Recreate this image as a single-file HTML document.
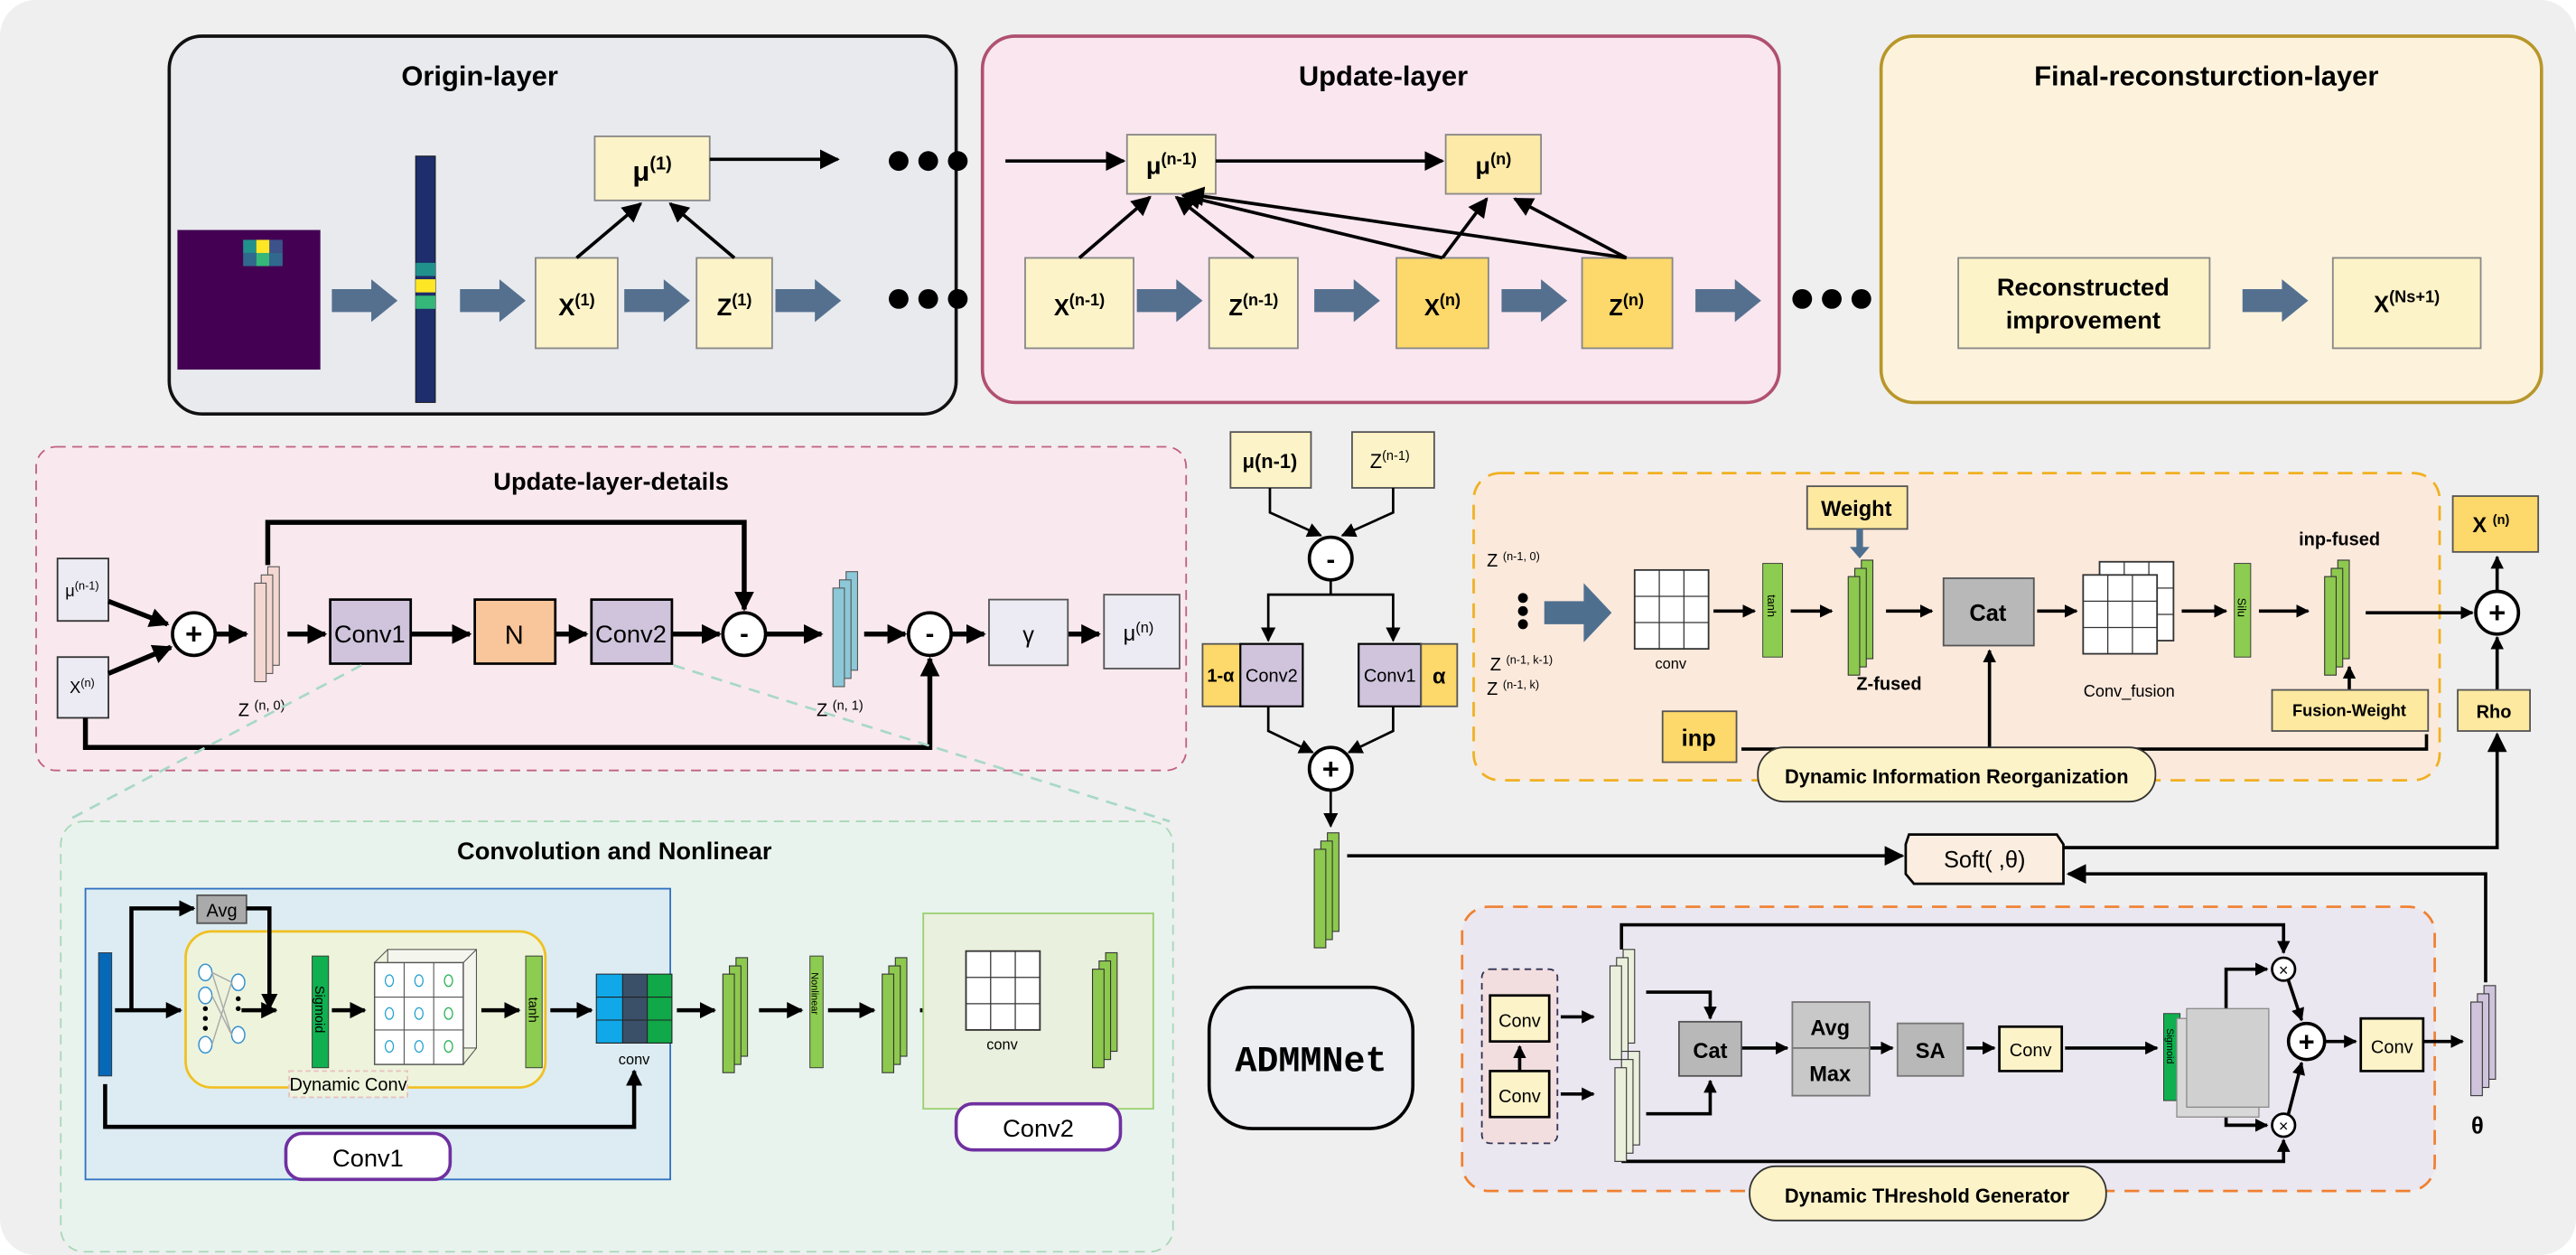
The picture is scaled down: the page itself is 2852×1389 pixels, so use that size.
<!DOCTYPE html>
<html><head><meta charset="utf-8"><style>
html,body{margin:0;padding:0;background:#fff;}
svg{display:block}
text{font-family:"Liberation Sans",sans-serif;}
text.mono{font-family:"Liberation Mono",monospace;}
</style></head><body>
<svg width="2852" height="1389" viewBox="0 0 1568 764" preserveAspectRatio="none" xmlns="http://www.w3.org/2000/svg">
<defs>
<marker id="a" viewBox="0 0 10 10" refX="9" refY="5" markerWidth="4" markerHeight="4" orient="auto"><path d="M0,0L10,5L0,10z" fill="#000"/></marker>
<marker id="b" viewBox="0 0 10 10" refX="9" refY="5" markerWidth="6" markerHeight="6" orient="auto"><path d="M0,0L10,5L0,10z" fill="#000"/></marker>
<g id="fat"><path d="M0,-7H24V-13L40,0L24,13V7H0z" fill="#55708f"/></g>
<g id="gst"><rect x="8" y="0" width="7" height="60" fill="#8dc94e" stroke="#333" stroke-width="0.6"/><rect x="4" y="5" width="7" height="60" fill="#8dc94e" stroke="#333" stroke-width="0.6"/><rect x="0" y="10" width="7" height="60" fill="#8dc94e" stroke="#333" stroke-width="0.6"/></g>
<g id="grid"><rect width="45" height="48" fill="#fff" stroke="#333"/><path d="M15,0V48M30,0V48M0,16H45M0,32H45" stroke="#333" stroke-width="0.7"/></g>
</defs>
<rect width="1568" height="764" rx="22" fill="#efefef"/>

<!-- Origin layer -->
<rect x="103" y="22" width="479" height="230" rx="20" fill="#e8eaee" stroke="#111" stroke-width="2"/>
<text x="292" y="52" font-size="17" font-weight="bold" text-anchor="middle">Origin-layer</text>
<rect x="108" y="140" width="87" height="85" fill="#440154"/>
<rect x="148" y="146" width="8" height="8" fill="#21918c"/><rect x="156" y="146" width="8" height="8" fill="#fde725"/><rect x="164" y="146" width="8" height="8" fill="#3b528b"/>
<rect x="148" y="154" width="8" height="8" fill="#31688e"/><rect x="156" y="154" width="8" height="8" fill="#35b779"/><rect x="164" y="154" width="8" height="8" fill="#31688e"/>
<use href="#fat" x="202" y="183"/>
<rect x="253" y="95" width="12" height="150" fill="#1e2d6b" stroke="#111" stroke-width="0.5"/>
<rect x="253" y="160" width="12" height="8" fill="#21918c"/><rect x="253" y="170" width="12" height="8" fill="#fde725"/><rect x="253" y="180" width="12" height="8" fill="#35b779"/>
<use href="#fat" x="280" y="183"/>
<rect x="326" y="157" width="50" height="55" fill="#fdf3c8" stroke="#888"/><text x="351" y="192" font-size="15" font-weight="bold" text-anchor="middle">X<tspan font-size="10" dy="-6">(1)</tspan></text>
<use href="#fat" x="380" y="183"/>
<rect x="424" y="157" width="46" height="55" fill="#fdf3c8" stroke="#888"/><text x="447" y="192" font-size="15" font-weight="bold" text-anchor="middle">Z<tspan font-size="10" dy="-6">(1)</tspan></text>
<use href="#fat" x="472" y="183"/>
<rect x="362" y="83" width="70" height="39" fill="#fdf3c8" stroke="#888"/><text x="397" y="110" font-size="17" font-weight="bold" text-anchor="middle">μ<tspan font-size="11" dy="-7">(1)</tspan></text>
<line x1="432" y1="97" x2="510" y2="97" stroke="#000" stroke-width="2" marker-end="url(#b)"/>
<line x1="351" y1="157" x2="390" y2="124" stroke="#000" stroke-width="2" marker-end="url(#b)"/>
<line x1="447" y1="157" x2="408" y2="124" stroke="#000" stroke-width="2" marker-end="url(#b)"/>
<g fill="#000"><circle cx="547" cy="98" r="6"/><circle cx="565" cy="98" r="6"/><circle cx="583" cy="98" r="6"/><circle cx="547" cy="182" r="6"/><circle cx="565" cy="182" r="6"/><circle cx="583" cy="182" r="6"/></g>

<!-- Update layer -->
<rect x="598" y="22" width="485" height="223" rx="20" fill="#f9e6ee" stroke="#b05070" stroke-width="2"/>
<text x="842" y="52" font-size="17" font-weight="bold" text-anchor="middle">Update-layer</text>
<line x1="612" y1="98" x2="684" y2="98" stroke="#000" stroke-width="2" marker-end="url(#b)"/>
<rect x="686" y="82" width="54" height="36" fill="#fdf3c8" stroke="#888"/><text x="713" y="106" font-size="15" font-weight="bold" text-anchor="middle">μ<tspan font-size="10" dy="-6">(n-1)</tspan></text>
<rect x="880" y="82" width="58" height="36" fill="#fde9a8" stroke="#888"/><text x="909" y="106" font-size="15" font-weight="bold" text-anchor="middle">μ<tspan font-size="10" dy="-6">(n)</tspan></text>
<line x1="740" y1="98" x2="878" y2="98" stroke="#000" stroke-width="2" marker-end="url(#b)"/>
<rect x="624" y="157" width="66" height="55" fill="#fdf3c8" stroke="#888"/><text x="657" y="192" font-size="14" font-weight="bold" text-anchor="middle">X<tspan font-size="10" dy="-6">(n-1)</tspan></text>
<use href="#fat" x="692" y="183"/>
<rect x="736" y="157" width="54" height="55" fill="#fdf3c8" stroke="#888"/><text x="763" y="192" font-size="14" font-weight="bold" text-anchor="middle">Z<tspan font-size="10" dy="-6">(n-1)</tspan></text>
<use href="#fat" x="800" y="183"/>
<rect x="850" y="157" width="56" height="55" fill="#fdd86a" stroke="#888"/><text x="878" y="192" font-size="14" font-weight="bold" text-anchor="middle">X<tspan font-size="10" dy="-6">(n)</tspan></text>
<use href="#fat" x="914" y="183"/>
<rect x="963" y="157" width="55" height="55" fill="#fdd86a" stroke="#888"/><text x="990" y="192" font-size="14" font-weight="bold" text-anchor="middle">Z<tspan font-size="10" dy="-6">(n)</tspan></text>
<g stroke="#000" stroke-width="2" marker-end="url(#b)">
<line x1="657" y1="157" x2="700" y2="120"/><line x1="763" y1="157" x2="716" y2="120"/>
<line x1="878" y1="157" x2="720" y2="119"/><line x1="990" y1="157" x2="722" y2="118"/>
<line x1="878" y1="157" x2="905" y2="121"/><line x1="990" y1="157" x2="922" y2="121"/>
</g>
<use href="#fat" x="1032" y="183"/>
<g fill="#000"><circle cx="1097" cy="182" r="6"/><circle cx="1115" cy="182" r="6"/><circle cx="1133" cy="182" r="6"/></g>
<use href="#fat" x="1146" y="183"/>

<!-- Final -->
<rect x="1145" y="22" width="402" height="223" rx="20" fill="#fdf3dd" stroke="#b8962a" stroke-width="2"/>
<text x="1343" y="52" font-size="17" font-weight="bold" text-anchor="middle">Final-reconsturction-layer</text>
<rect x="1192" y="157" width="153" height="55" fill="#fdf3c8" stroke="#888"/>
<text x="1268" y="180" font-size="15" font-weight="bold" text-anchor="middle">Reconstructed</text><text x="1268" y="200" font-size="15" font-weight="bold" text-anchor="middle">improvement</text>
<use href="#fat" x="1365" y="183"/>
<rect x="1420" y="157" width="90" height="55" fill="#fdf3c8" stroke="#888"/><text x="1465" y="190" font-size="14" font-weight="bold" text-anchor="middle">X<tspan font-size="10" dy="-6">(Ns+1)</tspan></text>

<!-- Update-layer-details -->
<rect x="22" y="272" width="700" height="197" rx="12" fill="#f9e9ee" stroke="#c06080" stroke-dasharray="6,4"/>
<text x="372" y="298" font-size="15" font-weight="bold" text-anchor="middle">Update-layer-details</text>
<rect x="35" y="340" width="31" height="38" fill="#eceaf2" stroke="#333"/><text x="50" y="363" font-size="10" text-anchor="middle">μ<tspan font-size="7" dy="-4">(n-1)</tspan></text>
<rect x="35" y="400" width="31" height="37" fill="#eceaf2" stroke="#333"/><text x="50" y="422" font-size="10" text-anchor="middle">X<tspan font-size="7" dy="-4">(n)</tspan></text>
<g stroke="#000" stroke-width="3" fill="none">
<line x1="66" y1="366" x2="102" y2="380" marker-end="url(#a)"/>
<line x1="66" y1="410" x2="104" y2="394" marker-end="url(#a)"/>
<line x1="131" y1="386" x2="150" y2="386" marker-end="url(#a)"/>
<line x1="175" y1="386" x2="198" y2="386" marker-end="url(#a)"/>
<line x1="250" y1="386" x2="286" y2="386" marker-end="url(#a)"/>
<line x1="338" y1="386" x2="357" y2="386" marker-end="url(#a)"/>
<line x1="409" y1="386" x2="438" y2="386" marker-end="url(#a)"/>
<line x1="466" y1="386" x2="500" y2="386" marker-end="url(#a)"/>
<line x1="526" y1="386" x2="551" y2="386" marker-end="url(#a)"/>
<line x1="579" y1="386" x2="599" y2="386" marker-end="url(#a)"/>
<line x1="650" y1="386" x2="669" y2="386" marker-end="url(#a)"/>
<polyline points="163,344 163,318 453,318 453,371" marker-end="url(#a)"/>
<polyline points="52,437 52,455 566,455 566,401" marker-end="url(#a)"/>
</g>
<circle cx="118" cy="386" r="13" fill="#fff" stroke="#000" stroke-width="2"/><text x="118" y="392" font-size="18" font-weight="bold" text-anchor="middle">+</text>
<rect x="163" y="345" width="7" height="60" fill="#f3d7d0" stroke="#555" stroke-width="0.6"/><rect x="159" y="350" width="7" height="60" fill="#f3d7d0" stroke="#555" stroke-width="0.6"/><rect x="155" y="355" width="7" height="60" fill="#f3d7d0" stroke="#555" stroke-width="0.6"/>
<text x="145" y="436" font-size="11">Z <tspan font-size="8" dy="-4">(n, 0)</tspan></text>
<rect x="201" y="365" width="49" height="39" fill="#cfc4dc" stroke="#000" stroke-width="1.5"/><text x="225" y="391" font-size="15" text-anchor="middle">Conv1</text>
<rect x="289" y="365" width="49" height="39" fill="#f8c69a" stroke="#000" stroke-width="1.5"/><text x="313" y="392" font-size="16" text-anchor="middle">N</text>
<rect x="360" y="365" width="49" height="39" fill="#cfc4dc" stroke="#000" stroke-width="1.5"/><text x="384" y="391" font-size="15" text-anchor="middle">Conv2</text>
<circle cx="453" cy="386" r="13" fill="#fff" stroke="#000" stroke-width="2"/><text x="453" y="391" font-size="16" font-weight="bold" text-anchor="middle">-</text>
<rect x="515" y="348" width="7" height="60" fill="#8cc8d8" stroke="#555" stroke-width="0.6"/><rect x="511" y="353" width="7" height="60" fill="#8cc8d8" stroke="#555" stroke-width="0.6"/><rect x="507" y="358" width="7" height="60" fill="#8cc8d8" stroke="#555" stroke-width="0.6"/>
<text x="497" y="436" font-size="11">Z <tspan font-size="8" dy="-4">(n, 1)</tspan></text>
<circle cx="566" cy="386" r="13" fill="#fff" stroke="#000" stroke-width="2"/><text x="566" y="391" font-size="16" font-weight="bold" text-anchor="middle">-</text>
<rect x="602" y="365" width="48" height="40" fill="#eceaf2" stroke="#555"/><text x="626" y="391" font-size="14" text-anchor="middle">γ</text>
<rect x="672" y="362" width="46" height="45" fill="#eceaf2" stroke="#555"/><text x="693" y="390" font-size="13" text-anchor="middle">μ<tspan font-size="9" dy="-5">(n)</tspan></text>
<line x1="220" y1="405" x2="40" y2="500" stroke="#a8d8c8" stroke-width="1.5" stroke-dasharray="7,5"/>
<line x1="410" y1="405" x2="712" y2="500" stroke="#a8d8c8" stroke-width="1.5" stroke-dasharray="7,5"/>

<!-- Convolution and Nonlinear -->
<rect x="37" y="500" width="677" height="262" rx="14" fill="#e9f3ee" stroke="#a8d8b8" stroke-dasharray="6,4"/>
<text x="374" y="523" font-size="15" font-weight="bold" text-anchor="middle">Convolution and Nonlinear</text>
<rect x="52" y="541" width="356" height="177" fill="#dcecf2" stroke="#3070c0"/>
<rect x="113" y="567" width="219" height="95" rx="16" fill="#eef3dc" stroke="#f0c020" stroke-width="1.5"/>
<rect x="176" y="652" width="72" height="16" fill="#eef3dc" stroke="#e8c0c0" stroke-dasharray="3,2"/><text x="212" y="664" font-size="11" text-anchor="middle">Dynamic Conv</text>
<rect x="60" y="580" width="8" height="75" fill="#0868b8" stroke="#333" stroke-width="0.5"/>
<rect x="120" y="545" width="30" height="17" fill="#aaa" stroke="#555"/><text x="135" y="558" font-size="11" text-anchor="middle">Avg</text>
<g stroke="#000" stroke-width="2.5" fill="none">
<line x1="70" y1="615" x2="110" y2="615" marker-end="url(#a)"/>
<polyline points="80,615 80,553 118,553" marker-end="url(#a)"/>
<polyline points="150,553 164,553 164,614" marker-end="url(#a)"/>
<line x1="147" y1="615" x2="168" y2="615" marker-end="url(#a)"/>
<line x1="202" y1="615" x2="222" y2="615" marker-end="url(#a)"/>
<line x1="293" y1="615" x2="316" y2="615" marker-end="url(#a)"/>
<line x1="335" y1="615" x2="360" y2="615" marker-end="url(#a)"/>
<polyline points="64,660 64,686 386,686 386,652" marker-end="url(#a)"/>
<line x1="412" y1="615" x2="435" y2="615" marker-end="url(#a)"/>
<line x1="462" y1="615" x2="488" y2="615" marker-end="url(#a)"/>
<line x1="504" y1="615" x2="532" y2="615" marker-end="url(#a)"/>
<line x1="560" y1="615" x2="583" y2="615" marker-end="url(#a)"/>
<line x1="637" y1="615" x2="660" y2="615" marker-end="url(#a)"/>
</g>
<g fill="#fff" stroke="#3090d0" stroke-width="0.8"><ellipse cx="125" cy="592" rx="4" ry="5"/><ellipse cx="125" cy="606" rx="4" ry="5"/><ellipse cx="125" cy="636" rx="4" ry="5"/><ellipse cx="145" cy="598" rx="4" ry="5"/><ellipse cx="145" cy="630" rx="4" ry="5"/></g>
<g stroke="#aaa" stroke-width="0.8"><line x1="129" y1="592" x2="141" y2="598"/><line x1="129" y1="606" x2="141" y2="630"/><line x1="129" y1="636" x2="141" y2="598"/><line x1="129" y1="592" x2="141" y2="630"/></g>
<g fill="#000"><circle cx="125" cy="614" r="1.5"/><circle cx="125" cy="620" r="1.5"/><circle cx="125" cy="626" r="1.5"/><circle cx="145" cy="608" r="1.5"/><circle cx="145" cy="614" r="1.5"/></g>
<rect x="190" y="582" width="10" height="68" fill="#10b050" stroke="#333" stroke-width="0.5"/><text transform="translate(192,600) rotate(90)" font-size="8">Sigmoid</text>
<rect x="236" y="578" width="54" height="60" fill="#f4f6ee" stroke="#555" stroke-width="0.6"/>
<rect x="228" y="586" width="54" height="62" fill="#fff" stroke="#555" stroke-width="0.8"/>
<path d="M228,586L236,578M282,586L290,578M282,648L290,638M246,586V648M264,586V648M228,607H282M228,627H282" stroke="#555" stroke-width="0.6" fill="none"/>
<g fill="#fff" stroke="#20a0d0" stroke-width="0.7"><ellipse cx="237" cy="597" rx="2.5" ry="3.5"/><ellipse cx="255" cy="597" rx="2.5" ry="3.5"/><ellipse cx="273" cy="597" rx="2.5" ry="3.5" stroke="#20b050"/><ellipse cx="237" cy="617" rx="2.5" ry="3.5"/><ellipse cx="255" cy="617" rx="2.5" ry="3.5"/><ellipse cx="273" cy="617" rx="2.5" ry="3.5" stroke="#20b050"/><ellipse cx="237" cy="637" rx="2.5" ry="3.5"/><ellipse cx="255" cy="637" rx="2.5" ry="3.5"/><ellipse cx="273" cy="637" rx="2.5" ry="3.5" stroke="#20b050"/></g>
<rect x="320" y="582" width="10" height="68" fill="#8ccc50" stroke="#333" stroke-width="0.5"/><text transform="translate(322,607) rotate(90)" font-size="8">tanh</text>
<rect x="363" y="593" width="16" height="42" fill="#10a8e8"/><rect x="379" y="593" width="15" height="42" fill="#3a5068"/><rect x="394" y="593" width="15" height="42" fill="#10a848"/>
<path d="M363,593H409V635H363zM363,607H409M363,621H409M379,593V635M394,593V635" stroke="#222" stroke-width="0.6" fill="none"/>
<text x="386" y="648" font-size="9" text-anchor="middle">conv</text>
<rect x="174" y="690" width="100" height="28" rx="10" fill="#fff" stroke="#7030a0" stroke-width="2"/><text x="224" y="710" font-size="15" text-anchor="middle">Conv1</text>
<use href="#gst" x="440" y="583"/>
<rect x="493" y="582" width="8" height="68" fill="#8ccc50" stroke="#333" stroke-width="0.5"/><text transform="translate(494,592) rotate(90)" font-size="6">Nonlinear</text>
<use href="#gst" x="537" y="583"/>
<rect x="562" y="556" width="140" height="119" fill="#eaf0de" stroke="#9ad070"/>
<use href="#grid" x="588" y="579"/>
<text x="610" y="639" font-size="9" text-anchor="middle">conv</text>
<use href="#gst" x="665" y="580"/>
<rect x="582" y="672" width="100" height="28" rx="10" fill="#fff" stroke="#7030a0" stroke-width="2"/><text x="632" y="692" font-size="15" text-anchor="middle">Conv2</text>

<!-- middle column -->
<rect x="749" y="263" width="49" height="34" fill="#fdf3c8" stroke="#555"/><text x="773" y="285" font-size="12" font-weight="bold" text-anchor="middle">μ(n-1)</text>
<rect x="823" y="263" width="50" height="34" fill="#fdf3c8" stroke="#555"/><text x="846" y="285" font-size="12" text-anchor="middle">Z<tspan font-size="8" dy="-5">(n-1)</tspan></text>
<g stroke="#000" stroke-width="1.5" fill="none">
<polyline points="773,297 773,312 804,326" marker-end="url(#b)"/>
<polyline points="848,297 848,312 817,326" marker-end="url(#b)"/>
<polyline points="810,353 810,362 772,362 772,390" marker-end="url(#b)"/>
<polyline points="810,362 848,362 848,390" marker-end="url(#b)"/>
<polyline points="772,430 772,445 799,458" marker-end="url(#b)"/>
<polyline points="848,430 848,445 821,458" marker-end="url(#b)"/>
<line x1="810" y1="481" x2="810" y2="503" marker-end="url(#b)"/>
</g>
<circle cx="810" cy="340" r="13" fill="#fff" stroke="#000" stroke-width="2"/><text x="810" y="346" font-size="16" font-weight="bold" text-anchor="middle">-</text>
<rect x="732" y="392" width="23" height="38" fill="#fdd86a" stroke="#555"/><text x="743" y="415" font-size="11" font-weight="bold" text-anchor="middle">1-α</text>
<rect x="755" y="392" width="38" height="38" fill="#cfc4dc" stroke="#000" stroke-width="1.2"/><text x="774" y="415" font-size="11" text-anchor="middle">Conv2</text>
<rect x="827" y="392" width="38" height="38" fill="#cfc4dc" stroke="#000" stroke-width="1.2"/><text x="846" y="415" font-size="11" text-anchor="middle">Conv1</text>
<rect x="865" y="392" width="22" height="38" fill="#fdd86a" stroke="#555"/><text x="876" y="416" font-size="13" font-weight="bold" text-anchor="middle">α</text>
<circle cx="810" cy="468" r="13" fill="#fff" stroke="#000" stroke-width="2"/><text x="810" y="474" font-size="18" font-weight="bold" text-anchor="middle">+</text>
<use href="#gst" x="800" y="507"/>
<rect x="736" y="601" width="124" height="86" rx="26" fill="#eceef2" stroke="#000" stroke-width="2"/>
<text class="mono" x="798" y="652" font-size="22" font-weight="bold" text-anchor="middle">ADMMNet</text>

<!-- Soft -->
<line x1="820" y1="521" x2="1158" y2="521" stroke="#000" stroke-width="2" marker-end="url(#b)"/>
<path d="M1162,508H1252L1256,514V538H1165L1160,532V514z" fill="#fbeee0" stroke="#000" stroke-width="1.5"/>
<text x="1208" y="528" font-size="14" text-anchor="middle">Soft(   ,θ)</text>
<polyline points="1256,516 1520,516 1520,447" stroke="#000" stroke-width="2" fill="none" marker-end="url(#b)"/>
<polyline points="1513,598 1513,532 1259,532" stroke="#000" stroke-width="2" fill="none" marker-end="url(#b)"/>

<!-- DIR -->
<rect x="897" y="288" width="588" height="187" rx="16" fill="#fbe9dc" stroke="#f0b020" stroke-width="1.5" stroke-dasharray="9,6"/>
<text x="905" y="345" font-size="11">Z <tspan font-size="7" dy="-4">(n-1, 0)</tspan></text>
<g fill="#000"><circle cx="927" cy="364" r="3"/><circle cx="927" cy="372" r="3"/><circle cx="927" cy="380" r="3"/></g>
<text x="907" y="408" font-size="11">Z <tspan font-size="7" dy="-4">(n-1, k-1)</tspan></text>
<text x="905" y="423" font-size="11">Z <tspan font-size="7" dy="-4">(n-1, k)</tspan></text>
<path d="M940,366H964V355L981,373L964,391V380H940z" fill="#4f6f8f"/>
<use href="#grid" x="995" y="347"/><text x="1017" y="407" font-size="9" text-anchor="middle">conv</text>
<rect x="1073" y="343" width="12" height="57" fill="#8ccc50" stroke="#333" stroke-width="0.5"/><text transform="translate(1076,362) rotate(90)" font-size="7">tanh</text>
<g stroke="#000" stroke-width="2" fill="none">
<line x1="1043" y1="372" x2="1068" y2="372" marker-end="url(#a)"/>
<line x1="1090" y1="372" x2="1115" y2="372" marker-end="url(#a)"/>
<line x1="1148" y1="372" x2="1176" y2="372" marker-end="url(#a)"/>
<line x1="1240" y1="372" x2="1264" y2="372" marker-end="url(#a)"/>
<line x1="1328" y1="372" x2="1355" y2="372" marker-end="url(#a)"/>
<line x1="1375" y1="372" x2="1405" y2="372" marker-end="url(#a)"/>
<line x1="1440" y1="373" x2="1505" y2="373" marker-end="url(#a)"/>
<polyline points="1060,456 1477,456 1477,447"/>
<line x1="1211" y1="456" x2="1211" y2="396" marker-end="url(#a)"/>
<line x1="1430" y1="420" x2="1430" y2="406" marker-end="url(#a)"/>
<line x1="1520" y1="360" x2="1520" y2="339" marker-end="url(#a)"/>
<line x1="1520" y1="420" x2="1520" y2="388" marker-end="url(#a)"/>
</g>
<rect x="1100" y="296" width="61" height="26" fill="#fde9a0" stroke="#555"/><text x="1130" y="314" font-size="13" font-weight="bold" text-anchor="middle">Weight</text>
<path d="M1130,322V333h-4l6,7 6,-7h-4V322z" fill="#4f6f8f"/>
<use href="#gst" x="1125" y="341"/>
<text x="1130" y="420" font-size="11" font-weight="bold">Z-fused</text>
<rect x="1183" y="352" width="55" height="41" fill="#b8b8b8" stroke="#555"/><text x="1210" y="378" font-size="14" font-weight="bold" text-anchor="middle">Cat</text>
<use href="#grid" x="1278" y="342"/><use href="#grid" x="1268" y="350"/>
<text x="1296" y="424" font-size="10" text-anchor="middle">Conv_fusion</text>
<rect x="1360" y="343" width="10" height="57" fill="#8ccc50" stroke="#333" stroke-width="0.5"/><text transform="translate(1362,364) rotate(90)" font-size="7">Silu</text>
<use href="#gst" x="1415" y="341"/>
<text x="1424" y="332" font-size="11" font-weight="bold" text-anchor="middle">inp-fused</text>
<rect x="1383" y="420" width="95" height="25" fill="#fde9a0" stroke="#555"/><text x="1430" y="436" font-size="10" font-weight="bold" text-anchor="middle">Fusion-Weight</text>
<rect x="1012" y="433" width="45" height="31" fill="#fdd86a" stroke="#555"/><text x="1034" y="454" font-size="14" font-weight="bold" text-anchor="middle">inp</text>
<rect x="1070" y="455" width="242" height="33" rx="16" fill="#fdf3c8" stroke="#333"/><text x="1191" y="477" font-size="12" font-weight="bold" text-anchor="middle">Dynamic Information Reorganization</text>
<circle cx="1520" cy="373" r="13" fill="#fff" stroke="#000" stroke-width="2"/><text x="1520" y="379" font-size="18" font-weight="bold" text-anchor="middle">+</text>
<rect x="1493" y="302" width="52" height="34" fill="#fdd86a" stroke="#555"/><text x="1505" y="324" font-size="13" font-weight="bold">X <tspan font-size="8" dy="-5">(n)</tspan></text>
<rect x="1496" y="420" width="44" height="25" fill="#fde9a0" stroke="#555"/><text x="1518" y="437" font-size="11" font-weight="bold" text-anchor="middle">Rho</text>

<!-- DTG -->
<rect x="890" y="552" width="592" height="173" rx="16" fill="#ebe7f0" stroke="#f08030" stroke-width="1.5" stroke-dasharray="9,6"/>
<rect x="902" y="590" width="46" height="106" rx="5" fill="#f2dede" stroke="#335" stroke-dasharray="4,3"/>
<rect x="907" y="606" width="36" height="28" fill="#fdf3c8" stroke="#000" stroke-width="1.5"/><text x="925" y="625" font-size="11" text-anchor="middle">Conv</text>
<rect x="907" y="652" width="36" height="28" fill="#fdf3c8" stroke="#000" stroke-width="1.5"/><text x="925" y="671" font-size="11" text-anchor="middle">Conv</text>
<g stroke="#000" stroke-width="2" fill="none">
<line x1="925" y1="652" x2="925" y2="637" marker-end="url(#a)"/>
<line x1="950" y1="619" x2="970" y2="619" marker-end="url(#a)"/>
<line x1="950" y1="666" x2="970" y2="666" marker-end="url(#a)"/>
<polyline points="1002,604 1041,604 1041,620" marker-end="url(#a)"/>
<polyline points="1002,678 1041,678 1041,658" marker-end="url(#a)"/>
<line x1="1060" y1="638" x2="1088" y2="638" marker-end="url(#a)"/>
<line x1="1138" y1="638" x2="1152" y2="638" marker-end="url(#a)"/>
<line x1="1197" y1="638" x2="1214" y2="638" marker-end="url(#a)"/>
<line x1="1257" y1="638" x2="1313" y2="638" marker-end="url(#a)"/>
<line x1="1331" y1="638" x2="1338" y2="638"/>
<polyline points="987,578 987,563 1390,563 1390,580" marker-end="url(#a)"/>
<polyline points="988,700 988,707 1390,707 1390,694" marker-end="url(#a)"/>
<polyline points="1355,625 1355,590 1380,590" marker-end="url(#a)"/>
<polyline points="1355,676 1355,685 1380,685" marker-end="url(#a)"/>
<line x1="1393" y1="597" x2="1401" y2="621" marker-end="url(#a)"/>
<line x1="1393" y1="678" x2="1401" y2="647" marker-end="url(#a)"/>
<line x1="1415" y1="634" x2="1434" y2="634" marker-end="url(#a)"/>
<line x1="1475" y1="634" x2="1499" y2="634" marker-end="url(#a)"/>
</g>
<g fill="#eaf0dc" stroke="#333" stroke-width="0.6"><rect x="988" y="578" width="7" height="57"/><rect x="984" y="583" width="7" height="57"/><rect x="980" y="588" width="7" height="57"/>
<rect x="991" y="640" width="7" height="57"/><rect x="987" y="645" width="7" height="57"/><rect x="983" y="650" width="7" height="57"/></g>
<rect x="1022" y="622" width="38" height="33" fill="#b8b8b8" stroke="#555"/><text x="1041" y="644" font-size="13" font-weight="bold" text-anchor="middle">Cat</text>
<rect x="1091" y="610" width="47" height="28" fill="#c8c8c8" stroke="#777"/><text x="1114" y="630" font-size="13" font-weight="bold" text-anchor="middle">Avg</text>
<rect x="1091" y="638" width="47" height="29" fill="#c8c8c8" stroke="#777"/><text x="1114" y="658" font-size="13" font-weight="bold" text-anchor="middle">Max</text>
<rect x="1155" y="623" width="40" height="32" fill="#b8b8b8" stroke="#777"/><text x="1175" y="644" font-size="13" font-weight="bold" text-anchor="middle">SA</text>
<rect x="1217" y="625" width="38" height="27" fill="#fdf3c8" stroke="#000" stroke-width="1.5"/><text x="1236" y="643" font-size="11" text-anchor="middle">Conv</text>
<rect x="1317" y="617" width="10" height="53" fill="#10b050" stroke="#333" stroke-width="0.5"/><text transform="translate(1319,626) rotate(90)" font-size="6">Sigmoid</text>
<rect x="1325" y="620" width="50" height="60" fill="#d8d8d8" stroke="#888" stroke-width="0.7"/><rect x="1331" y="614" width="50" height="60" fill="#d0d0d0" stroke="#888" stroke-width="0.7"/>
<circle cx="1390" cy="590" r="7" fill="#fff" stroke="#000" stroke-width="1.5"/><text x="1390" y="594" font-size="10" text-anchor="middle">×</text>
<circle cx="1390" cy="685" r="7" fill="#fff" stroke="#000" stroke-width="1.5"/><text x="1390" y="689" font-size="10" text-anchor="middle">×</text>
<circle cx="1404" cy="634" r="11" fill="#fff" stroke="#000" stroke-width="2"/><text x="1404" y="640" font-size="17" font-weight="bold" text-anchor="middle">+</text>
<rect x="1437" y="620" width="38" height="32" fill="#fdf3c8" stroke="#000" stroke-width="1.5"/><text x="1456" y="641" font-size="11" text-anchor="middle">Conv</text>
<g fill="#cfc4dc" stroke="#333" stroke-width="0.6"><rect x="1512" y="600" width="7" height="57"/><rect x="1508" y="605" width="7" height="57"/><rect x="1504" y="610" width="7" height="57"/></g>
<text x="1508" y="690" font-size="14" font-weight="bold" text-anchor="middle">θ</text>
<rect x="1065" y="710" width="217" height="33" rx="16" fill="#fdf3c8" stroke="#333"/><text x="1173" y="732" font-size="12" font-weight="bold" text-anchor="middle">Dynamic THreshold Generator</text>
</svg>
</body></html>
